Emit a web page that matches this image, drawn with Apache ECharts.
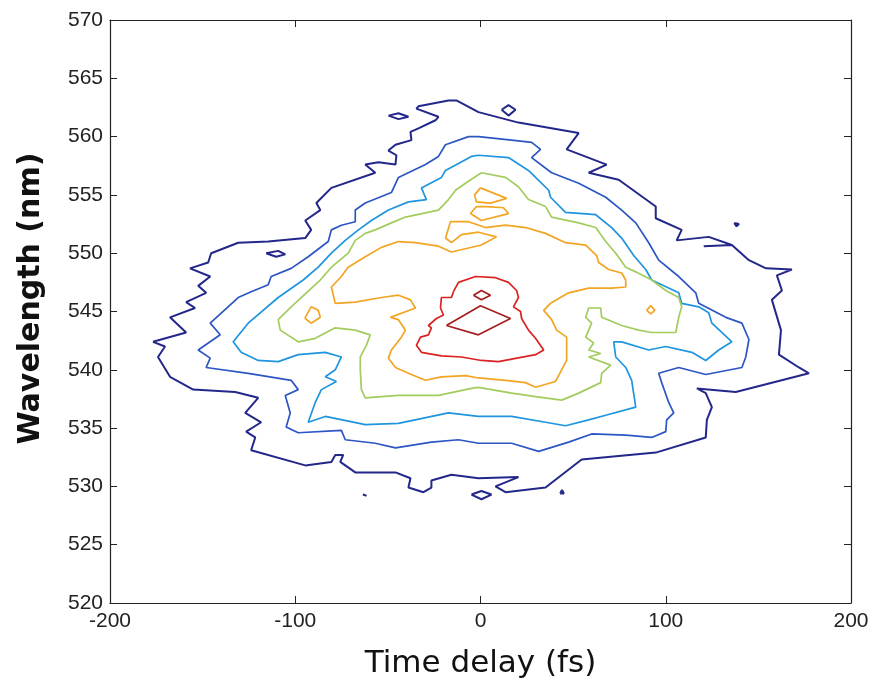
<!DOCTYPE html>
<html>
<head>
<meta charset="utf-8">
<script src="https://cdn.jsdelivr.net/npm/echarts@6/dist/echarts.min.js"></script>
<style>
html,body{margin:0;padding:0;background:#fff;}
#chart{width:876px;height:686px;}
</style>
</head>
<body>
<div id="chart"></div>
<script>
// Axis ticks
const xTicks = [-200, -100, 0, 100, 200];
const yTicks = [520, 525, 530, 535, 540, 545, 550, 555, 560, 565, 570];

// Contour lines: [time delay (fs), wavelength (nm)]
const level1Outer = [
  [-176.8,542.4],[-158.9,543.2],[-167.6,544.5],[-154.1,545.3],[-158.9,545.8],[-148.1,546.6],[-152.4,547.2],
  [-145.9,548.0],[-156.8,548.7],[-147.0,549.2],[-145.4,550.0],[-130.8,550.9],[-114.6,551.0],[-94.6,551.3],
  [-91.4,552.0],[-94.6,552.8],[-86.5,553.7],[-88.6,554.3],[-80.5,555.6],[-56.8,556.9],[-62.2,557.6],
  [-55.1,557.8],[-45.9,557.6],[-45.4,558.4],[-49.7,558.8],[-45.9,559.3],[-37.3,559.7],[-37.8,560.4],
  [-33.5,560.7],[-24.3,561.4],[-22.7,561.7],[-34.6,562.4],[-33.5,562.6],[-17.3,563.1],[-13.0,563.1],
  [-1.1,562.1],[20.5,561.2],[53.0,560.3],[46.5,558.9],[68.1,557.6],[58.4,556.9],[74.6,556.3],
  [94.6,554.0],[94.6,553.0],[108.6,552.0],[105.9,551.1],[123.2,551.4],[135.7,550.7],[120.5,550.6],[135.7,550.7],[144.9,549.4],
  [154.1,548.7],[168.1,548.6],[160.0,548.1],[162.7,546.8],[157.3,546.0],[162.2,543.4],[161.1,541.3],
  [171.9,540.2],[177.3,539.7],[137.8,538.1],[116.8,538.4],[121.6,538.0],[124.9,536.8],[122.2,535.7],
  [121.6,534.2],[94.6,532.9],[54.6,532.3],[35.1,529.9],[13.5,529.5],[8.1,530.0],[20.5,530.8],
  [-1.1,530.7],[-15.7,531.0],[-26.5,530.5],[-26.5,529.9],[-30.8,529.5],[-38.9,529.9],[-37.8,530.7],
  [-45.9,531.2],[-67.6,531.2],[-75.7,532.1],[-74.1,532.7],[-78.4,532.7],[-80.5,532.1],[-94.6,531.8],
  [-123.8,533.1],[-121.6,534.2],[-126.5,534.7],[-118.4,535.5],[-127.0,536.3],[-120.0,537.6],[-132.4,538.1],
  [-155.1,538.3],[-167.6,539.4],[-174.1,541.1],[-170.3,542.0]
];
const level1IslandA = [[11.4,562.3],[15.1,562.7],[18.9,562.3],[15.1,561.8]];
const level1IslandB = [[-49.7,561.8],[-44.3,562.0],[-38.9,561.7],[-44.3,561.5]];
const level1IslandC = [[-115.7,550.0],[-109.2,550.2],[-105.4,549.9],[-110.3,549.7]];
const level1IslandD = [[-4.9,529.3],[0.5,529.6],[5.9,529.3],[0.5,528.9]];
const level1IslandE = [[-63.5,529.3],[-61.5,529.2],[-62.5,529.1]];
const level1IslandF = [[137.0,552.6],[139.5,552.5],[138.2,552.3]];
const level1IslandG = [[43.0,529.4],[45.0,529.4],[44.0,529.7]];

const level2 = [
  [-6.5,560.0],[-1.1,560.0],[16.8,559.7],[27.6,559.5],[32.4,558.9],[27.6,558.2],[38.4,556.9],[53.0,556.0],
  [67.6,554.8],[76.2,553.7],[83.8,552.6],[90.8,550.9],[96.2,549.4],[107.0,548.0],[116.2,546.6],[117.8,545.7],
  [132.4,544.5],[141.1,544.0],[144.9,542.6],[143.2,541.1],[141.1,540.2],[121.6,539.6],[107.0,540.2],
  [96.2,539.7],[97.8,538.9],[101.6,537.2],[104.3,536.3],[100.5,535.7],[100.0,534.7],[92.4,534.2],
  [78.4,534.4],[60.0,534.5],[47.6,533.8],[31.4,533.0],[16.8,533.7],[-1.1,533.7],[-11.9,534.0],
  [-26.5,533.8],[-45.9,533.3],[-56.8,533.7],[-73.0,534.0],[-75.1,534.8],[-98.4,534.6],[-104.9,535.1],
  [-102.7,536.3],[-105.4,537.8],[-98.4,538.3],[-102.2,539.1],[-125.4,539.7],[-148.1,540.2],[-145.9,541.0],
  [-152.4,541.7],[-140.5,543.0],[-145.9,544.0],[-130.8,546.2],[-123.8,546.7],[-114.6,547.3],[-113.0,548.0],
  [-102.2,548.7],[-93.0,549.7],[-82.2,551.0],[-80.5,552.0],[-75.1,552.4],[-67.6,552.7],[-67.6,553.7],
  [-62.2,554.3],[-48.1,555.2],[-44.3,556.5],[-29.7,557.6],[-22.7,558.3],[-18.9,559.3]
];

const level3 = [
  [-1.1,558.4],[15.1,558.2],[25.9,557.1],[36.8,555.4],[37.8,554.8],[45.9,553.5],[62.2,553.3],[70.8,552.2],
  [76.2,551.3],[82.7,549.8],[89.2,548.6],[92.4,547.7],[107.0,546.6],[108.6,545.7],[117.8,545.4],[123.2,544.9],
  [124.9,544.0],[135.7,542.4],[128.6,541.7],[121.6,540.8],[114.1,541.5],[100.0,542.0],[90.8,541.7],
  [76.2,542.4],[71.9,542.4],[73.0,541.1],[78.4,540.2],[81.6,539.1],[83.8,536.8],[67.6,536.1],[58.4,535.7],
  [45.9,535.2],[35.1,535.5],[16.8,536.0],[-1.1,536.0],[-17.3,536.3],[-44.3,535.4],[-62.2,535.3],
  [-83.8,536.0],[-93.0,535.5],[-89.2,537.2],[-85.9,538.3],[-77.8,539.0],[-83.8,539.4],[-78.4,540.0],
  [-75.1,541.1],[-83.8,541.5],[-98.4,541.3],[-109.2,540.7],[-120.0,540.8],[-129.2,541.5],[-133.5,542.4],
  [-125.4,544.0],[-109.2,546.2],[-95.7,547.7],[-87.6,548.8],[-80.5,550.0],[-73.0,551.1],[-65.9,552.0],
  [-58.9,552.8],[-49.7,553.7],[-38.9,554.4],[-29.2,554.6],[-31.9,555.6],[-21.1,556.5],[-18.9,557.1],
  [-4.9,558.3]
];

const level4 = [
  [0.5,556.9],[13.5,556.5],[20.5,555.7],[25.9,554.6],[35.1,554.0],[38.4,553.1],[53.0,552.6],[62.2,552.2],
  [67.6,551.0],[73.0,550.0],[78.4,548.8],[83.8,548.4],[92.4,547.7],[100.0,546.8],[107.0,546.2],[108.6,545.4],
  [107.0,544.5],[105.4,543.2],[92.4,543.2],[85.4,543.4],[76.2,543.8],[65.4,544.5],[64.9,545.3],[58.4,545.3],
  [56.8,544.5],[60.0,544.0],[56.8,542.8],[61.1,542.3],[58.4,541.7],[64.9,541.4],[58.4,541.1],[70.3,540.4],
  [65.4,539.7],[64.9,538.9],[53.0,538.0],[43.8,537.4],[29.7,537.7],[16.8,538.0],[-1.1,538.5],[-4.9,538.4],
  [-22.7,537.8],[-44.3,537.8],[-62.2,537.6],[-64.3,538.3],[-64.9,540.0],[-64.9,541.1],[-61.6,542.1],
  [-59.5,543.0],[-67.6,543.4],[-78.4,543.6],[-89.2,542.7],[-98.4,542.4],[-108.1,543.4],[-109.2,544.3],
  [-102.2,545.4],[-86.5,547.7],[-80.5,548.8],[-71.4,550.0],[-67.6,551.1],[-62.2,551.7],[-56.8,552.0],
  [-48.1,552.6],[-40.5,553.1],[-22.7,553.7],[-17.3,554.6],[-13.5,555.4],[-8.1,556.0]
];

const level5 = [
  [-75.1,548.0],[-72.4,548.6],[-71.4,548.8],[-62.2,549.7],[-53.5,550.5],[-44.3,551.0],[-35.1,550.9],
  [-22.7,550.6],[-15.7,550.1],[0.5,550.7],[8.6,551.4],[-1.1,551.8],[-10.3,551.6],[-15.7,550.9],[-18.9,551.3],
  [-16.2,552.7],[-6.5,552.7],[2.7,552.2],[13.5,552.4],[24.3,552.2],[35.1,551.7],[45.9,550.9],[56.8,550.7],
  [62.7,549.8],[63.8,549.2],[69.2,548.6],[76.2,548.3],[78.4,547.7],[78.4,547.1],[70.8,547.0],[58.4,547.0],
  [47.6,546.6],[37.8,545.7],[34.1,545.1],[38.4,544.3],[41.1,543.4],[46.5,542.8],[46.5,540.8],[43.8,540.0],
  [40.5,539.0],[29.7,538.5],[24.3,538.9],[13.5,539.1],[-1.1,539.3],[-8.1,539.5],[-21.1,539.4],[-29.7,539.1],
  [-37.3,539.6],[-45.9,540.2],[-49.7,541.0],[-48.1,541.7],[-42.7,542.8],[-40.5,543.4],[-44.3,544.3],
  [-48.6,544.5],[-35.1,545.3],[-37.8,546.0],[-44.3,546.4],[-53.5,546.2],[-67.6,545.8],[-78.4,545.7],
  [-80.5,547.1]
];
const level5IslandA = [[0.0,555.6],[14.1,554.7],[5.4,554.3],[-2.2,554.4],[-3.2,555.0]];
const level5IslandB = [[3.2,554.0],[12.4,553.9],[15.1,553.4],[0.5,552.8],[-5.4,553.4],[-2.2,554.0]];
const level5IslandC = [[-94.6,544.5],[-91.4,545.4],[-87.6,545.1],[-86.5,544.5],[-91.4,544.0],[-94.6,544.4]];
const level5IslandD = [[89.7,545.1],[91.9,545.5],[94.1,545.1],[91.9,544.8]];

const level6 = [
  [-14.6,546.7],[-11.9,547.5],[-2.7,548.0],[8.1,547.9],[15.1,547.5],[19.5,546.8],[20.5,546.2],[17.8,545.4],
  [21.6,545.0],[22.2,544.4],[25.9,543.4],[29.7,542.7],[34.1,541.7],[29.7,541.3],[9.7,540.7],[0.5,540.8],
  [-10.3,541.1],[-21.1,541.2],[-31.9,541.5],[-34.6,542.1],[-32.4,542.8],[-28.1,543.0],[-26.5,543.6],
  [-28.1,543.8],[-23.8,544.4],[-20.0,544.7],[-21.6,545.3],[-21.1,546.2],[-15.7,546.2]
];

const level7A = [[-3.8,546.4],[0.5,546.8],[5.4,546.4],[0.5,546.0]];
const level7B = [[-18.4,543.8],[0.0,545.5],[16.2,544.4],[-1.1,543.0]];

const levelColors = ['#23278a', '#2c56c4', '#1e95de', '#a3cc5e', '#f2a423', '#db2222', '#a3201f'];

const contours = [
  { pts: level1Outer, lv: 0 }, { pts: level1IslandA, lv: 0 }, { pts: level1IslandB, lv: 0 },
  { pts: level1IslandC, lv: 0 }, { pts: level1IslandD, lv: 0 }, { pts: level1IslandE, lv: 0 },
  { pts: level1IslandF, lv: 0 }, { pts: level1IslandG, lv: 0 },
  { pts: level2, lv: 1 }, { pts: level3, lv: 2 }, { pts: level4, lv: 3 },
  { pts: level5, lv: 4 }, { pts: level5IslandA, lv: 4 }, { pts: level5IslandB, lv: 4 },
  { pts: level5IslandC, lv: 4 }, { pts: level5IslandD, lv: 4 },
  { pts: level6, lv: 5 }, { pts: level7A, lv: 6 }, { pts: level7B, lv: 6 }
];

const series = contours.map(c => ({
  type: 'line',
  data: c.pts.concat([c.pts[0]]),
  showSymbol: false,
  symbol: 'none',
  silent: true,
  lineStyle: { color: levelColors[c.lv], width: c.lv === 0 ? 2 : 1.7 },
  z: 3 + c.lv
}));

const tickFont = 'Liberation Sans, Arial, sans-serif';
const titleFont = 'DejaVu Sans, Liberation Sans, sans-serif';
const axisLineStyle = { show: true, onZero: false, lineStyle: { color: '#222', width: 1.2 } };
const tickStyle = { show: true, inside: true, length: 7, lineStyle: { color: '#222' } };

const chart = echarts.init(document.getElementById('chart'), null, { renderer: 'canvas' });
chart.setOption({
  animation: false,
  backgroundColor: '#ffffff',
  grid: { left: 110, right: 25, top: 20, bottom: 83 },
  xAxis: [
    {
      type: 'value', position: 'bottom', min: xTicks[0], max: xTicks[xTicks.length - 1], interval: 100,
      name: 'Time delay (fs)', nameLocation: 'middle', nameGap: 45,
      nameTextStyle: { fontFamily: titleFont, fontSize: 31, color: '#111' },
      axisLine: axisLineStyle, axisTick: tickStyle,
      axisLabel: { fontFamily: tickFont, fontSize: 21, color: '#222', margin: 8 },
      splitLine: { show: false }
    },
    {
      type: 'value', position: 'top', min: xTicks[0], max: xTicks[xTicks.length - 1], interval: 100,
      axisLine: axisLineStyle, axisTick: tickStyle,
      axisLabel: { show: false }, splitLine: { show: false }
    }
  ],
  yAxis: [
    {
      type: 'value', position: 'left', min: yTicks[0], max: yTicks[yTicks.length - 1], interval: 5,
      name: 'Wavelength (nm)', nameLocation: 'middle', nameGap: 64,
      nameTextStyle: { fontFamily: titleFont, fontSize: 30, fontWeight: 'bold', color: '#111', padding: [0, 0, 0, 26] },
      axisLine: axisLineStyle, axisTick: tickStyle,
      axisLabel: { fontFamily: tickFont, fontSize: 21, color: '#222', margin: 7 },
      splitLine: { show: false }
    },
    {
      type: 'value', position: 'right', min: yTicks[0], max: yTicks[yTicks.length - 1], interval: 5,
      axisLine: axisLineStyle, axisTick: tickStyle,
      axisLabel: { show: false }, splitLine: { show: false }
    }
  ],
  series: series
});
</script>
</body>
</html>
